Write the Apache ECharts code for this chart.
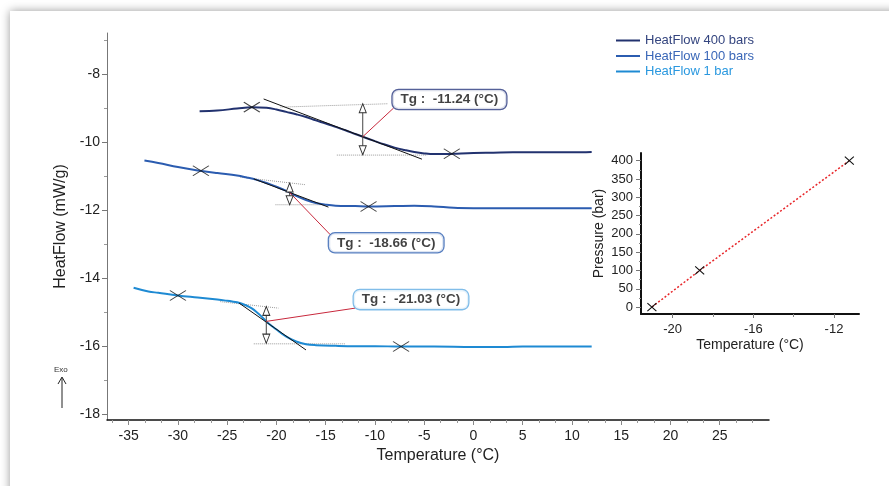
<!DOCTYPE html>
<html>
<head>
<meta charset="utf-8">
<script src="https://cdn.jsdelivr.net/npm/echarts@6/dist/echarts.min.js"></script>
<style>
html,body{margin:0;padding:0;background:#fff;overflow:hidden}
#card{position:absolute;left:10px;top:11px;width:920px;height:520px;background:#fff;box-shadow:0 0 9px rgba(0,0,0,0.4)}
#chart{position:absolute;left:0;top:0;width:889px;height:486px}
</style>
</head>
<body>
<div id="card"></div>
<div id="chart"></div>
<script>
// heat flow curves, temperature (°C) / heat flow (mW/g)
const t400 = [-27.8,-26,-24,-22.5,-21,-20,-19,-18,-17,-16,-15,-14,-13,-12,-11.24,-10,-9,-8,-7,-6,-5,-4,-3,-2,0,2,4,6,8,10,12];
const hf400 = [-9.08,-9.06,-9.0,-8.96,-8.98,-9.03,-9.1,-9.17,-9.25,-9.35,-9.44,-9.54,-9.64,-9.75,-9.83,-9.96,-10.06,-10.15,-10.22,-10.28,-10.32,-10.34,-10.34,-10.33,-10.31,-10.3,-10.29,-10.29,-10.29,-10.29,-10.28];
const t100 = [-33.4,-32,-30,-28,-26,-24,-23,-22,-21,-20,-19,-18.66,-18,-17,-16,-15,-14,-12,-10.6,-8,-6,-4,-2,0,4,8,12];
const hf100 = [-10.53,-10.6,-10.72,-10.82,-10.9,-10.97,-11.03,-11.1,-11.19,-11.3,-11.42,-11.47,-11.57,-11.69,-11.78,-11.83,-11.86,-11.87,-11.88,-11.87,-11.86,-11.88,-11.92,-11.93,-11.93,-11.93,-11.93];
const t1 = [-34.5,-33,-32,-30,-28,-26,-25,-24.5,-24,-23.5,-23,-22.5,-22,-21.5,-21.03,-20,-19,-18,-17,-16,-14,-12,-10,-7.35,-4,0,3,5,8,12];
const hf1 = [-14.27,-14.38,-14.42,-14.5,-14.56,-14.62,-14.655,-14.675,-14.7,-14.74,-14.8,-14.88,-14.99,-15.12,-15.26,-15.5,-15.71,-15.85,-15.93,-15.96,-15.98,-15.99,-15.99,-16.0,-16.0,-16.01,-16.01,-16.0,-16.0,-16.0];

// onset / end crosses
const marks400 = [[-22.5,-8.96],[-2.2,-10.33]];
const marks100 = [[-27.67,-10.83],[-10.65,-11.88]];
const marks1 = [[-30.0,-14.5],[-7.35,-16.0]];

// glass transition
const tgValues = [-11.24, -18.66, -21.03];
const tgHeatFlow = [-9.83, -11.47, -15.26];
const upperBase = [[[-19.6,-8.96],[-8.65,-8.86]], [[-23.67,-11.02],[-17.07,-11.24]], [[-25.7,-14.68],[-19.8,-14.87]]];
const lowerBase = [[[-13.87,-10.37],[-4.7,-10.37]], [[-20.1,-11.83],[-14.9,-11.83]], [[-22.3,-15.92],[-13,-15.92]]];
const tangents = [[[-21.3,-8.72],[-5.23,-10.49]], [[-22.3,-11.07],[-14.72,-11.9]], [[-23.8,-14.72],[-17.0,-16.1]]];
const stepTop = [-8.86, -11.19, -14.82];
const stepBottom = [-10.36, -11.83, -15.9];
const leaderEnd = [[-8.12,-8.99],[-14.54,-12.71],[-12.0,-14.87]];
const boxAt = [[-2.44,-8.735],[-8.86,-12.95],[-6.34,-14.62]];

// inset: pressure vs Tg
const pressures = [0, 100, 400];
const tgByPressure = [-21.03, -18.66, -11.24];

// ticks
const xTicks = [-35,-30,-25,-20,-15,-10,-5,0,5,10,15,20,25];
const yTicks = [-18,-16,-14,-12,-10,-8];
const yMinor = [-17,-15,-13,-11,-9,-7];
const insetXTicks = [-20,-16,-12];
const insetXMinor = [-18,-14];
const insetYTicks = [0,50,100,150,200,250,300,350,400];

const names = ['HeatFlow 400 bars', 'HeatFlow 100 bars', 'HeatFlow 1 bar'];
const colors = ['#22326f', '#2b5cb0', '#1e8ad3'];
const textColors = ['#34457f', '#3a67b8', '#2a98df'];
const boxColors = ['#2b3a80', '#2e5fb0', '#62ace4'];

const xMinor = [];
for (let v = -35; v <= 25; v += 5) {
  [-5/3, 5/3, 10/3].forEach(d => { const m = v + d; if (m > -37.2 && m < 30) xMinor.push(+m.toFixed(3)); });
}
const insetYMinor = insetYTicks.slice(0, -1).map(v => v + 25);

const font = 'Liberation Sans, Arial, sans-serif';
const chart = echarts.init(document.getElementById('chart'));

const zip = (a, b) => a.map((v, i) => [v, b[i]]);
const cross = 'path://M0 0L16 10M0 10L16 0';

const series = [];
[[t400, hf400], [t100, hf100], [t1, hf1]].forEach((c, i) => {
  series.push({
    name: names[i], type: 'line', data: zip(c[0], c[1]), smooth: 0.4, showSymbol: false,
    lineStyle: { color: colors[i], width: 2 }, itemStyle: { color: colors[i] }, z: 3
  });
});
[marks400, marks100, marks1].forEach(m => {
  series.push({
    type: 'scatter', data: m, symbol: cross, symbolSize: [16, 10], silent: true, z: 5,
    itemStyle: { color: 'rgba(0,0,0,0)', borderColor: '#111', borderWidth: 1 }
  });
});
tgValues.forEach((tg, i) => {
  const thin = { type: 'line', showSymbol: false, silent: true, z: 2 };
  series.push(Object.assign({}, thin, { data: upperBase[i], lineStyle: { color: '#9a9a9a', width: 1, type: 'dotted' } }));
  series.push(Object.assign({}, thin, { data: lowerBase[i], lineStyle: { color: '#9a9a9a', width: 1, type: 'dotted' } }));
  series.push(Object.assign({}, thin, { data: tangents[i], lineStyle: { color: '#111', width: 1 }, z: 4 }));
  series.push({
    type: 'line', silent: true, z: 4, symbol: 'triangle', symbolSize: [7, 9], showSymbol: true,
    data: [
      { value: [tg, stepTop[i]], symbolOffset: [0, 4.5] },
      { value: [tg, stepBottom[i]], symbolRotate: 180, symbolOffset: [0, -4.5] }
    ],
    lineStyle: { color: '#444', width: 1 },
    itemStyle: { color: '#fff', borderColor: '#333', borderWidth: 1 }
  });
  series.push(Object.assign({}, thin, { data: [[tg, tgHeatFlow[i]], leaderEnd[i]], lineStyle: { color: '#c8283c', width: 1 }, z: 4 }));
  series.push({
    type: 'scatter', silent: true, z: 6, symbolSize: 1, itemStyle: { color: 'rgba(0,0,0,0)' },
    data: [boxAt[i]],
    label: {
      show: true, position: 'inside',
      formatter: 'Tg :  ' + tg.toFixed(2) + ' (°C)',
      fontFamily: font, fontWeight: 'bold', fontSize: 13.5, color: '#111',
      backgroundColor: '#fff', borderColor: boxColors[i], borderWidth: 1.3, borderRadius: 6,
      padding: [2, 8, 1, 8], lineHeight: 16
    }
  });
});
series.push({
  type: 'line', xAxisIndex: 2, yAxisIndex: 2, data: zip(tgByPressure, pressures), silent: true,
  symbol: 'path://M0 0L10 8M0 8L10 0', symbolSize: [9, 8], showSymbol: true,
  lineStyle: { color: '#e8262a', width: 1.5, type: [2, 2] },
  itemStyle: { color: 'rgba(0,0,0,0)', borderColor: '#111', borderWidth: 1 }
});

const tickLabel = { fontFamily: font, fontSize: 14, color: '#222' };
const insetLabel = { fontFamily: font, fontSize: 13, color: '#222' };
const minorAxis = { axisLabel: { show: false }, splitLine: { show: false } };

chart.setOption({
  animation: false,
  textStyle: { fontFamily: font },
  grid: [
    { left: 107, right: 120, top: 33, bottom: 66 },
    { left: 641, right: 30, top: 153, bottom: 172 }
  ],
  legend: {
    orient: 'vertical', left: 611, top: 29, itemWidth: 24, itemHeight: 2, itemGap: 2.5, icon: 'rect',
    textStyle: { fontFamily: font, fontSize: 13 },
    data: names.map((n, i) => ({ name: n, itemStyle: { color: colors[i] }, textStyle: { color: textColors[i] } }))
  },
  xAxis: [
    {
      type: 'value', gridIndex: 0, min: -37.2, max: 30, position: 'bottom',
      name: 'Temperature (°C)', nameLocation: 'middle', nameGap: 25,
      nameTextStyle: { fontFamily: font, fontSize: 16, color: '#222' },
      axisLine: { onZero: false, lineStyle: { color: '#111', width: 1.5 } },
      axisTick: { customValues: xTicks, length: 5, lineStyle: { color: '#888' } },
      axisLabel: Object.assign({ customValues: xTicks, margin: 9 }, tickLabel),
      splitLine: { show: false }
    },
    Object.assign({
      type: 'value', gridIndex: 0, min: -37.2, max: 30, position: 'bottom',
      axisLine: { show: false, onZero: false },
      axisTick: { customValues: xMinor, length: 3, lineStyle: { color: '#999' } }
    }, minorAxis),
    {
      type: 'value', gridIndex: 1, min: -21.57, max: -10.76, position: 'bottom',
      name: 'Temperature (°C)', nameLocation: 'middle', nameGap: 24,
      nameTextStyle: { fontFamily: font, fontSize: 14, color: '#222' },
      axisLine: { onZero: false, lineStyle: { color: '#111', width: 2 } },
      axisTick: { customValues: insetXTicks, length: 4, lineStyle: { color: '#777' } },
      axisLabel: Object.assign({ customValues: insetXTicks, margin: 9 }, insetLabel),
      splitLine: { show: false }
    },
    Object.assign({
      type: 'value', gridIndex: 1, min: -21.57, max: -10.76, position: 'bottom',
      axisLine: { show: false, onZero: false },
      axisTick: { customValues: insetXMinor, length: 3, lineStyle: { color: '#888' } }
    }, minorAxis)
  ],
  yAxis: [
    {
      type: 'value', gridIndex: 0, min: -18.16, max: -6.78, position: 'left',
      name: 'HeatFlow (mW/g)', nameLocation: 'middle', nameGap: 34,
      nameTextStyle: { fontFamily: font, fontSize: 16, color: '#222' },
      axisLine: { show: true, onZero: false, lineStyle: { color: '#777', width: 1 } },
      axisTick: { show: true, customValues: yTicks, length: 5, lineStyle: { color: '#777' } },
      axisLabel: Object.assign({ customValues: yTicks, margin: 7 }, tickLabel),
      splitLine: { show: false }
    },
    Object.assign({
      type: 'value', gridIndex: 0, min: -18.16, max: -6.78, position: 'left',
      axisLine: { show: false, onZero: false },
      axisTick: { show: true, customValues: yMinor, length: 3, lineStyle: { color: '#999' } }
    }, minorAxis),
    {
      type: 'value', gridIndex: 1, min: -19, max: 421, position: 'left',
      name: 'Pressure (bar)', nameLocation: 'middle', nameGap: 35,
      nameTextStyle: { fontFamily: font, fontSize: 14, color: '#222' },
      axisLine: { show: true, onZero: false, lineStyle: { color: '#111', width: 2 } },
      axisTick: { show: true, customValues: insetYTicks, length: 5, lineStyle: { color: '#777' } },
      axisLabel: Object.assign({ customValues: insetYTicks, margin: 8 }, insetLabel),
      splitLine: { show: false }
    },
    Object.assign({
      type: 'value', gridIndex: 1, min: -19, max: 421, position: 'left',
      axisLine: { show: false, onZero: false },
      axisTick: { show: true, customValues: insetYMinor, length: 2, lineStyle: { color: '#888' } }
    }, minorAxis)
  ],
  graphic: [
    { type: 'text', left: 54, top: 366, style: { text: 'Exo', fontSize: 8, fontFamily: font, fill: '#333' } },
    { type: 'line', shape: { x1: 62, y1: 408, x2: 62, y2: 378 }, style: { stroke: '#222', lineWidth: 1 } },
    { type: 'polyline', shape: { points: [[58, 384], [62, 377], [66, 384]] }, style: { stroke: '#222', lineWidth: 1, fill: null } }
  ],
  series: series
});
</script>
</body>
</html>
